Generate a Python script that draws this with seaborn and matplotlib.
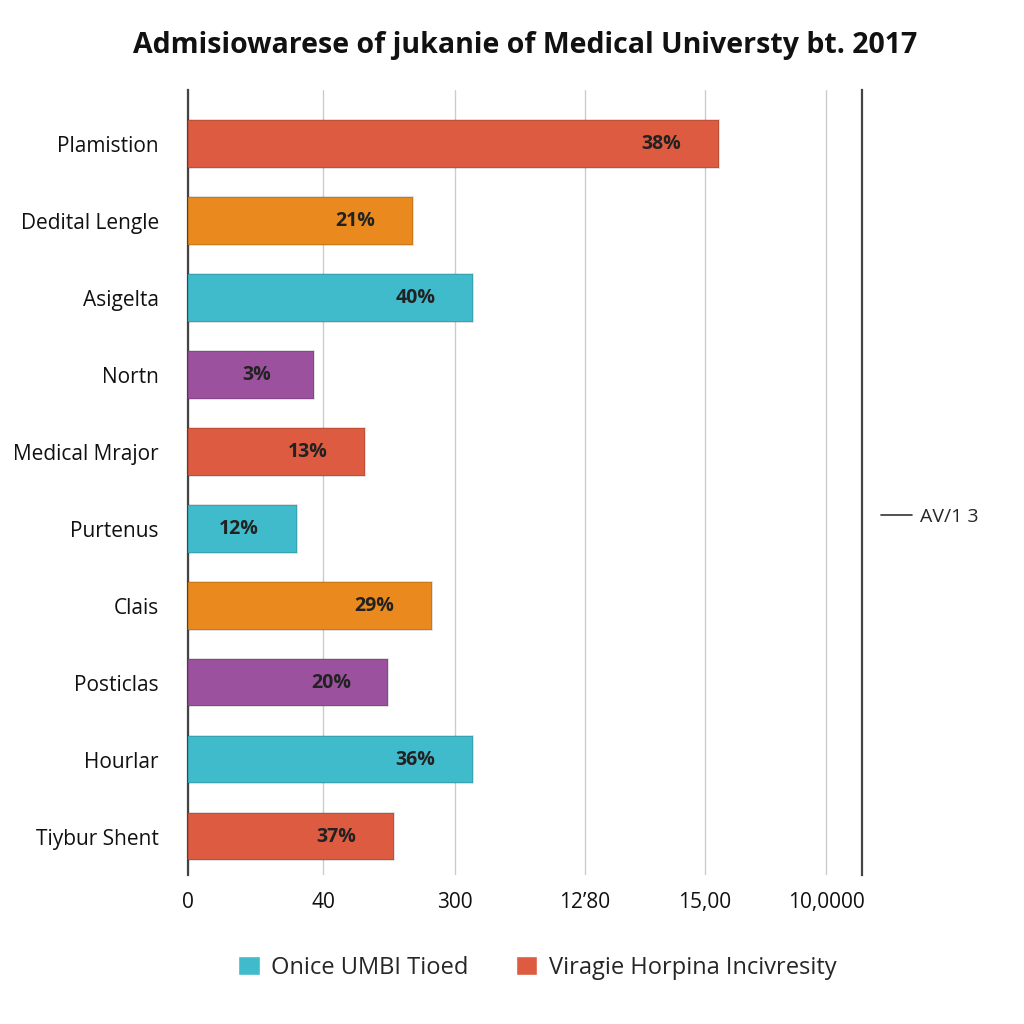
import matplotlib
matplotlib.use("Agg")
import matplotlib.pyplot as plt
from matplotlib.lines import Line2D
from matplotlib.patches import Patch
import pandas as pd
import seaborn as sns

# ----------------------------
# Data
# ----------------------------
categories = ["Plamistion", "Dedital Lengle", "Asigelta", "Nortn", "Medical Mrajor",
              "Purtenus", "Clais", "Posticlas", "Hourlar", "Tiybur Shent"]
values = [4.16, 1.76, 2.23, 0.99, 1.39, 0.85, 1.91, 1.57, 2.23, 1.61]
bar_labels = ["38%", "21%", "40%", "3%", "13%", "12%", "29%", "20%", "36%", "37%"]
tick_labels = ["0", "40", "300", "12\u201980", "15,00", "10,0000"]
legend_labels = ["Onice UMBI Tioed", "Viragie Horpina Incivresity"]
side_label = "AV/1 3"

RED = "#DD5B40"
ORANGE = "#E9891E"
TEAL = "#40BBCC"
PURPLE = "#9C519E"
bar_colors = [RED, ORANGE, TEAL, PURPLE, RED, TEAL, ORANGE, PURPLE, TEAL, RED]


def main():
    sns.set_theme(style="white")
    plt.rcParams["font.family"] = ["Open Sans", "DejaVu Sans"]

    df = pd.DataFrame({"category": categories, "value": values})

    fig = plt.figure(figsize=(10.24, 10.24), dpi=100)
    ax = fig.add_axes([0.1836, 0.1455, 0.6582, 0.7665])

    sns.barplot(data=df, x="value", y="category", hue="category",
                palette=bar_colors, orient="h", width=0.62, legend=False,
                saturation=1, ax=ax, zorder=3)

    # thin darker rim to hint at the bevelled look
    for patch in ax.patches:
        patch.set_edgecolor((0, 0, 0, 0.15))
        patch.set_linewidth(1.2)

    # labels inside bars, near the end
    for i, (v, lab) in enumerate(zip(values, bar_labels)):
        ax.text(v - 0.45, i, lab, ha="center", va="center",
                fontsize=14, fontweight="bold", color="#222222", zorder=4)

    # x axis
    ax.set_xlim(0, 5.28)
    ax.set_xticks([0, 1.06, 2.09, 3.11, 4.05, 5.0])
    ax.set_xticklabels(tick_labels, fontsize=15, color="#111111")
    ax.tick_params(axis="x", length=0, pad=12)
    ax.xaxis.grid(True, color="#CCCCCC", linewidth=1)
    ax.set_axisbelow(True)

    # y axis
    ax.set_ylim(9.5, -0.7)
    ax.tick_params(axis="y", length=0, pad=21, labelsize=15, labelcolor="#111111")
    ax.set_yticks([i + 0.5 for i in range(9)], minor=True)
    ax.tick_params(axis="y", which="minor", length=5, direction="inout",
                   color="#444444", width=1)
    ax.set_xlabel("")
    ax.set_ylabel("")

    for side in ["top", "bottom"]:
        ax.spines[side].set_visible(False)
    for side in ["left", "right"]:
        ax.spines[side].set_color("#444444")
        ax.spines[side].set_linewidth(1.6)

    ax.set_title("Admisiowarese of jukanie of Medical Universty bt. 2017",
                 fontsize=20.5, fontweight="bold", pad=27, color="#111111")

    # bottom legend
    handles = [Patch(facecolor=TEAL), Patch(facecolor=RED)]
    fig.legend(handles, legend_labels, loc="center", bbox_to_anchor=(0.525, 0.055),
               ncol=2, frameon=False, fontsize=17, handlelength=0.9,
               handleheight=0.9, handletextpad=0.5, columnspacing=2.0)

    # side legend
    fig.legend([Line2D([], [], color="#333333", linewidth=1.2)], [side_label],
               loc="center left", bbox_to_anchor=(0.843, 0.495), frameon=False,
               fontsize=14, handlelength=1.6, handletextpad=0.4)

    fig.savefig("out.png", dpi=100)


if __name__ == "__main__":
    main()
